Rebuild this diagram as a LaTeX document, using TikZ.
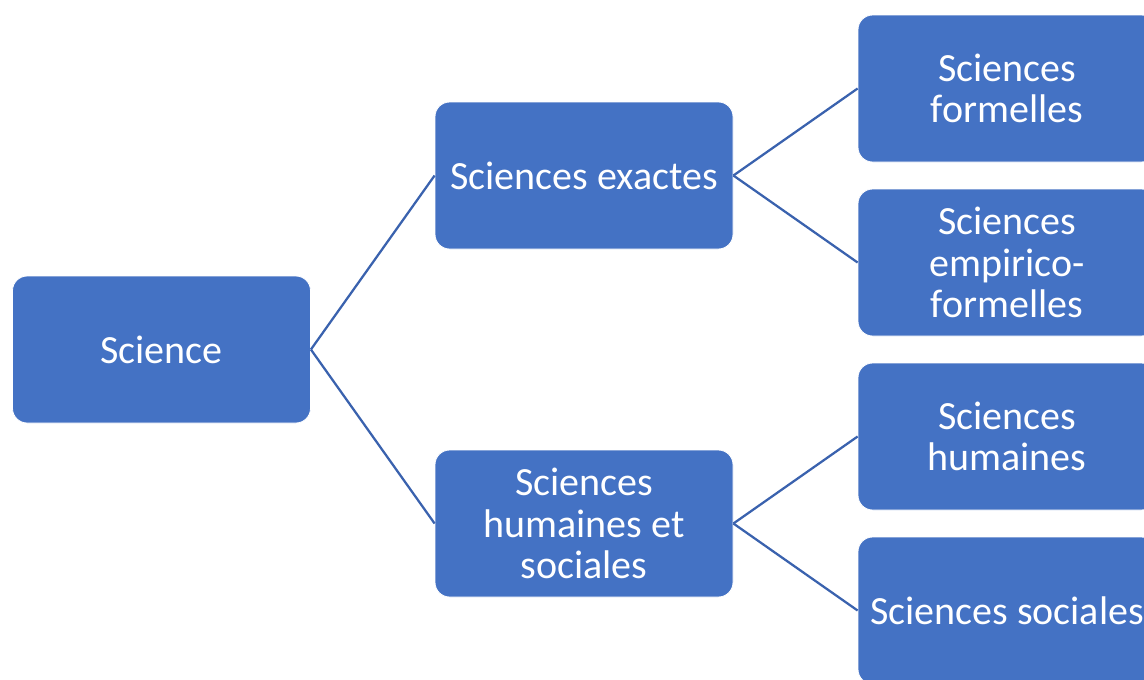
\documentclass[tikz,border=0pt]{standalone}
\usepackage{fontspec}
\setmainfont{Carlito}
\definecolor{boxblue}{HTML}{4472C4}
\definecolor{lineblue}{HTML}{3A62AE}
\begin{document}
\begin{tikzpicture}[x=0.75pt,y=-0.75pt,
  box/.style={fill=boxblue, draw=white, line width=0.6pt, rounded corners=11pt,
    minimum width=223.5pt, minimum height=110.25pt, text=white, align=center,
    inner sep=0pt, font=\fontsize{30pt}{31pt}\selectfont},
  link/.style={draw=lineblue, line width=1.7pt}]
\useasboundingbox (0,0) rectangle (1144,679);
\clip (0,0) rectangle (1144,679);
\node[box] (sci) at (161.5,349.5) {Science};
\node[box] (exa) at (584,175.5) {Sciences exactes};
\node[box] (hs) at (584,523.5) {Sciences\\humaines et\\sociales};
\node[box] (for) at (1007,88.5) {Sciences\\formelles};
\node[box] (emp) at (1007,262.5) {Sciences\\empirico-\\formelles};
\node[box] (hum) at (1007,436.5) {Sciences\\humaines};
\node[box] (soc) at (1007,610.5) {Sciences sociales};
\draw[link] (sci.east) -- (exa.west);
\draw[link] (sci.east) -- (hs.west);
\draw[link] (exa.east) -- (for.west);
\draw[link] (exa.east) -- (emp.west);
\draw[link] (hs.east) -- (hum.west);
\draw[link] (hs.east) -- (soc.west);
\end{tikzpicture}
\end{document}
